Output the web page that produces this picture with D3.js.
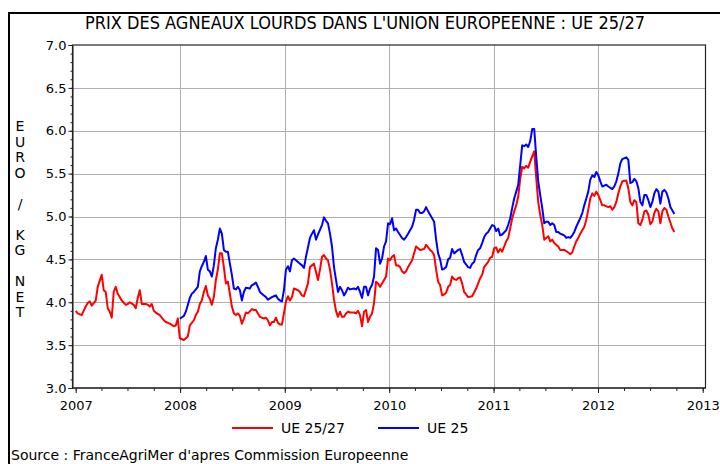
<!DOCTYPE html>
<html>
<head>
<meta charset="utf-8">
<script src="https://cdn.jsdelivr.net/npm/d3@7"></script>
<style>
  html, body { margin: 0; padding: 0; background: #fff; }
  svg { display: block; font-family: "DejaVu Sans", sans-serif; }
</style>
</head>
<body>
<div id="chart"></div>
<script>
// weekly prices, week index counted from 2007-01-01
var redWeeks = [0,1,3,5,6,7,8,10,11,13,14,15,16,17,18,19,20,21,22,23,25,26,27,29,30,31,32,33,35,36,37,38,39,40,42,44,45,47,49,50,51,52,54,55,56,57,59,60,61,62,63,64,65,66,67,68,69,70,71,72,73,74,75,76,77,78,79,80,81,82,83,84,85,86,88,89,90,91,92,94,95,96,97,98,99,100,101,102,103,104,105,106,107,108,109,111,112,113,114,116,117,118,119,121,122,123,124,125,126,127,128,129,130,131,132,133,134,135,136,137,139,140,141,142,143,144,145,146,147,148,149,150,151,152,153,154,155,156,157,158,159,160,161,162,163,164,165,166,168,169,170,171,172,174,175,176,177,178,179,180,181,182,183,184,185,186,187,188,189,190,191,192,193,194,196,198,200,201,202,203,204,206,207,208,209,210,211,212,213,214,215,216,217,218,219,220,221,222,223,224,225,226,227,228,229,230,231,232,233,234,236,237,238,239,240,241,242,244,246,247,248,249,250,251,252,254,255,256,257,258,259,260,261,262,263,264,266,267,268,269,270,271,272,273,275,276,277,278,279,280,281,282,283,284,285,286,287,288,289,290,291,292,293,294,295,296,297,298,299];
var redValues = [3.90,3.87,3.85,3.95,3.99,4.01,3.96,4.02,4.18,4.32,4.14,4.12,3.93,3.89,3.82,4.12,4.18,4.10,4.06,4.02,3.97,3.98,4.00,3.97,3.93,4.05,4.14,3.98,3.98,3.97,3.95,3.98,3.90,3.88,3.85,3.79,3.77,3.75,3.72,3.73,3.81,3.58,3.56,3.58,3.60,3.73,3.79,3.85,3.89,3.98,4.02,4.12,4.19,4.08,4.04,3.97,4.06,4.26,4.38,4.57,4.57,4.41,4.22,4.24,4.10,3.95,3.87,3.85,3.87,3.84,3.75,3.81,3.88,3.87,3.92,3.91,3.91,3.87,3.83,3.81,3.82,3.79,3.73,3.77,3.77,3.82,3.76,3.74,3.74,3.87,4.01,4.07,4.02,4.06,4.16,4.14,4.12,4.08,4.07,4.22,4.41,4.43,4.45,4.26,4.38,4.53,4.55,4.51,4.49,4.38,4.22,4.03,3.90,3.83,3.89,3.83,3.83,3.87,3.89,3.88,3.88,3.87,3.90,3.85,3.72,3.89,3.91,3.77,3.83,3.87,3.99,4.24,4.22,4.18,4.22,4.26,4.30,4.51,4.49,4.53,4.55,4.43,4.43,4.41,4.36,4.34,4.36,4.41,4.49,4.57,4.65,4.63,4.61,4.62,4.67,4.64,4.61,4.59,4.55,4.38,4.24,4.20,4.08,4.09,4.11,4.18,4.20,4.30,4.27,4.26,4.28,4.29,4.22,4.12,4.06,4.07,4.16,4.22,4.28,4.32,4.41,4.47,4.52,4.53,4.63,4.64,4.58,4.62,4.59,4.65,4.71,4.75,4.86,4.98,5.06,5.13,5.23,5.44,5.58,5.56,5.59,5.57,5.64,5.70,5.76,5.45,5.17,5.02,4.90,4.73,4.77,4.71,4.73,4.69,4.67,4.65,4.61,4.61,4.58,4.56,4.58,4.65,4.71,4.75,4.80,4.88,4.96,5.08,5.21,5.27,5.24,5.29,5.25,5.19,5.13,5.13,5.11,5.12,5.08,5.11,5.17,5.27,5.35,5.41,5.42,5.33,5.17,5.13,5.19,5.17,4.92,4.90,4.96,5.06,5.07,5.02,4.91,4.94,5.04,5.09,5.06,4.92,5.06,5.10,5.08,5.00,4.93,4.86,4.82];

var blueWeeks = [52,54,55,57,58,59,61,62,63,64,65,66,67,68,69,70,71,72,73,74,75,76,77,78,79,80,81,82,83,84,85,87,88,89,90,91,92,94,95,96,98,99,100,101,102,103,104,105,106,107,108,109,111,112,113,114,115,117,118,119,120,121,123,124,125,126,127,128,129,130,131,132,133,134,135,136,137,139,140,141,142,143,144,145,146,147,148,149,150,151,152,153,154,155,156,157,158,159,160,161,163,164,165,166,168,169,170,171,172,173,174,175,176,177,178,179,180,181,182,183,184,185,186,187,188,189,191,192,193,194,196,197,198,199,200,201,202,203,204,205,206,207,208,209,210,211,212,213,215,216,217,218,219,220,221,222,223,224,225,226,227,228,229,230,231,232,233,234,235,236,237,238,239,240,241,242,243,244,245,246,247,248,249,250,251,252,253,254,255,256,257,258,259,260,261,262,263,264,265,266,268,269,270,271,272,273,275,276,277,278,279,280,281,282,283,284,285,286,287,288,289,290,291,292,293,294,295,296,297,298,299];
var blueValues = [3.81,3.84,3.89,4.05,4.10,4.12,4.18,4.36,4.42,4.47,4.54,4.38,4.36,4.30,4.43,4.63,4.73,4.86,4.80,4.61,4.59,4.59,4.45,4.32,4.16,4.15,4.18,4.14,4.02,4.12,4.17,4.16,4.20,4.21,4.23,4.18,4.12,4.08,4.06,4.03,4.06,4.07,4.08,4.04,4.02,4.01,4.14,4.38,4.42,4.36,4.49,4.51,4.47,4.45,4.43,4.40,4.53,4.75,4.80,4.84,4.73,4.79,4.90,4.99,4.95,4.92,4.80,4.65,4.41,4.26,4.12,4.18,4.14,4.08,4.12,4.17,4.15,4.16,4.15,4.18,4.12,4.05,4.18,4.18,4.08,4.16,4.20,4.30,4.63,4.61,4.45,4.51,4.65,4.71,4.92,4.91,4.98,4.84,4.86,4.82,4.75,4.73,4.76,4.80,4.88,4.96,5.08,5.08,5.04,5.04,5.06,5.11,5.06,5.02,4.98,4.94,4.73,4.57,4.50,4.38,4.39,4.41,4.50,4.52,4.62,4.57,4.61,4.62,4.55,4.47,4.41,4.40,4.45,4.47,4.55,4.61,4.63,4.69,4.76,4.80,4.82,4.86,4.90,4.89,4.83,4.86,4.78,4.79,4.84,4.90,4.98,5.10,5.21,5.29,5.37,5.60,5.83,5.82,5.84,5.81,5.88,6.02,6.02,5.70,5.41,5.25,5.10,4.92,4.94,4.94,4.90,4.92,4.90,4.82,4.82,4.80,4.79,4.78,4.75,4.76,4.75,4.78,4.82,4.88,4.93,4.98,5.04,5.13,5.21,5.29,5.43,5.48,5.46,5.52,5.48,5.41,5.35,5.36,5.37,5.35,5.32,5.35,5.41,5.50,5.62,5.67,5.69,5.66,5.39,5.40,5.44,5.41,5.33,5.17,5.13,5.25,5.25,5.19,5.11,5.17,5.27,5.32,5.29,5.15,5.29,5.31,5.28,5.21,5.11,5.07,5.03];

var seriesNames = ["UE 25/27", "UE 25"];
var seriesColors = ["#ff0000", "#0000ff"];
var yTicks = [3.0, 3.5, 4.0, 4.5, 5.0, 5.5, 6.0, 6.5, 7.0];
var yLabel = "EURO / KG NET";
var title = "PRIX DES AGNEAUX LOURDS DANS L'UNION EUROPEENNE : UE 25/27";
var source = "Source : FranceAgriMer d'apres Commission Europeenne";

var width = 720, height = 464;
var start = new Date(2007, 0, 1);

function toPoints(weeks, values){
    return weeks.map(function(w, i){
        return { date: d3.timeDay.offset(start, w * 7), value: values[i] };
    });
}
var series = [toPoints(redWeeks, redValues), toPoints(blueWeeks, blueValues)];

var x = d3.scaleTime()
    .domain([start, new Date(2013, 0, 1)])
    .range([75.7, 702.7]);
var y = d3.scaleLinear()
    .domain([3, 7])
    .range([388, 45]);

var plotLeft = 72.5, plotRight = 705.5;

var svg = d3.select("#chart").append("svg")
    .attr("width", width)
    .attr("height", height);

svg.append("rect")
    .attr("width", width).attr("height", height)
    .attr("fill", "#fff");

// outer frame (right/bottom edges fall outside the picture)
svg.append("rect")
    .attr("x", 9).attr("y", 13)
    .attr("width", 740).attr("height", 480)
    .attr("fill", "none")
    .attr("stroke", "#000")
    .attr("stroke-width", 2);

svg.append("text")
    .attr("x", 365).attr("y", 29)
    .attr("text-anchor", "middle")
    .attr("font-size", 18)
    .attr("textLength", 560)
    .attr("lengthAdjust", "spacingAndGlyphs")
    .attr("fill", "#000")
    .text(title);

// gridlines
svg.append("g")
    .selectAll("line")
    .data(yTicks.slice(1, -1))
    .join("line")
    .attr("x1", plotLeft).attr("x2", plotRight)
    .attr("y1", function(d){ return Math.round(y(d)) + 0.5; })
    .attr("y2", function(d){ return Math.round(y(d)) + 0.5; })
    .attr("stroke", "#b0b0b0");

svg.append("g")
    .selectAll("line")
    .data(x.ticks(d3.timeYear).slice(1, -1))
    .join("line")
    .attr("x1", function(d){ return Math.round(x(d)) + 0.5; })
    .attr("x2", function(d){ return Math.round(x(d)) + 0.5; })
    .attr("y1", y(7)).attr("y2", y(3))
    .attr("stroke", "#b0b0b0");

// series lines
var line = d3.line()
    .x(function(d){ return x(d.date); })
    .y(function(d){ return y(d.value); });

svg.append("g")
    .selectAll("path")
    .data(series)
    .join("path")
    .attr("d", line)
    .attr("fill", "none")
    .attr("stroke", function(d, i){ return seriesColors[i]; })
    .attr("stroke-width", 2)
    .attr("stroke-linejoin", "round");

// plot frame
svg.append("rect")
    .attr("x", plotLeft).attr("y", y(7))
    .attr("width", plotRight - plotLeft)
    .attr("height", y(3) - y(7))
    .attr("fill", "none")
    .attr("stroke", "#222")
    .attr("stroke-width", 1.2);

// y axis
var yAxis = svg.append("g")
    .attr("transform", "translate(" + plotLeft + ",0)")
    .call(d3.axisLeft(y).tickValues(yTicks).tickFormat(d3.format(".1f")).tickSize(4).tickPadding(2));
svg.append("g")
    .attr("transform", "translate(" + plotLeft + ",0)")
    .call(d3.axisLeft(y).tickValues(d3.range(30, 71).map(function(v){ return v / 10; })).tickFormat("").tickSize(2))
    .call(function(g){ g.select(".domain").remove(); });

// x axis
var xAxis = svg.append("g")
    .attr("transform", "translate(0," + y(3) + ")")
    .call(d3.axisBottom(x).ticks(d3.timeYear).tickFormat(d3.timeFormat("%Y")).tickSize(5).tickPadding(8));
svg.append("g")
    .attr("transform", "translate(0," + y(3) + ")")
    .call(d3.axisBottom(x).ticks(d3.timeMonth.every(3)).tickFormat("").tickSize(3))
    .call(function(g){ g.select(".domain").remove(); });

svg.selectAll(".tick text")
    .attr("font-family", "DejaVu Sans, sans-serif")
    .attr("font-size", 13)
    .attr("fill", "#000");
svg.selectAll(".domain, .tick line").attr("stroke", "#222");
xAxis.select(".domain").attr("d", "M" + plotLeft + ",0H" + plotRight);

// vertical y label, one letter per line
svg.append("g")
    .selectAll("text")
    .data(yLabel.split(""))
    .join("text")
    .attr("x", 20)
    .attr("y", function(d, i){ return 126 + i * 15.5; })
    .attr("dy", "0.36em")
    .attr("text-anchor", "middle")
    .attr("font-size", 14)
    .text(function(d){ return d; });

// legend
var legend = svg.append("g")
    .selectAll("g")
    .data(seriesNames)
    .join("g")
    .attr("transform", function(d, i){ return "translate(" + [232, 378][i] + ",428)"; });
legend.append("line")
    .attr("x1", 0).attr("x2", 41)
    .attr("stroke", function(d, i){ return seriesColors[i]; })
    .attr("stroke-width", 2);
legend.append("text")
    .attr("x", 49).attr("y", 5)
    .attr("font-size", 14)
    .text(function(d){ return d; });

// source line sits at the very bottom edge
svg.append("text")
    .attr("x", 11).attr("y", 460)
    .attr("font-size", 14)
    .text(source);
</script>
</body>
</html>
